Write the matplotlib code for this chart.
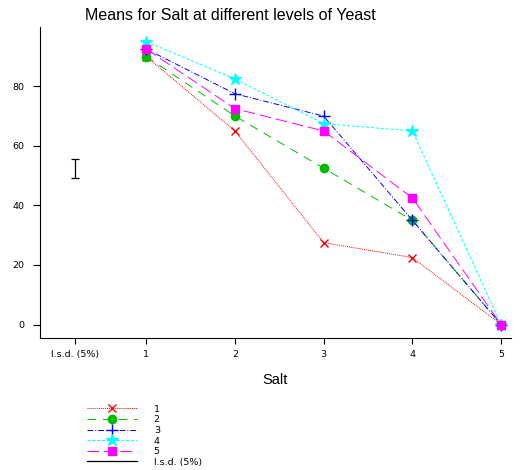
import matplotlib
matplotlib.use("Agg")
import matplotlib.pyplot as plt

plt.rcParams['font.family'] = ['Liberation Sans', 'DejaVu Sans']

salt = [1, 2, 3, 4, 5]
yeast_labels = ["1", "2", "3", "4", "5"]
means = [
    [90, 65, 27.5, 22.5, 0],
    [90, 70, 52.5, 35, 0],
    [92.5, 77.5, 70, 35, 0],
    [95, 82.5, 67.5, 65, 0],
    [92.5, 72.5, 65, 42.5, 0],
]
lsd_pos = 0.2
lsd_center = 52.3
lsd_value = 6.4
xtick_labels = ["l.s.d. (5%)", "1", "2", "3", "4", "5"]
yticks = [0, 20, 40, 60, 80]

colors = ["red", "#00bb00", "blue", "cyan", "magenta"]
markers = ["x", "o", "+", "*", "s"]
styles = [(0, (1, 1)), (0, (9, 7)), (0, (6, 2, 1, 2)), (0, (3, 2)), (0, (12, 5))]
msizes = [5.5, 6, 8, 9, 6]

small = dict(family="DejaVu Sans", size=6.8)

fig = plt.figure(figsize=(5.25, 4.7), dpi=100)
ax = fig.add_axes([0.076, 0.281, 0.897, 0.662])

for i in range(5):
    ax.plot(salt, means[i], color=colors[i], marker=markers[i], linestyle=styles[i],
            linewidth=0.7, markersize=msizes[i], markeredgewidth=1.0,
            label=yeast_labels[i])

ax.errorbar([lsd_pos], [lsd_center], yerr=[lsd_value / 2], color="black",
            capsize=3, linewidth=0.9, capthick=0.9, fmt="none")
ax.plot([], [], color="black", linewidth=0.9, label="l.s.d. (5%)")

ax.set_xlim(-0.2, 5.11)
ax.set_ylim(-4.5, 100)
ax.set_xticks([lsd_pos] + salt)
ax.set_xticklabels(xtick_labels, fontdict=small)
ax.set_yticks(yticks)
ax.set_yticklabels([str(v) for v in yticks], fontdict=small)
ax.tick_params(axis="x", length=4, width=0.8, pad=5)
ax.tick_params(axis="y", length=5, width=0.8, pad=6)
ax.spines['top'].set_visible(False)
ax.spines['right'].set_visible(False)
ax.set_xlabel("Salt", fontsize=10.5, labelpad=10)

fig.text(0.438, 0.966, "Means for Salt at different levels of Yeast",
         fontsize=11.5, ha="center", va="center")

fig.legend(loc="upper left", bbox_to_anchor=(0.158, 0.147), frameon=False,
           prop=small, handlelength=5.3, labelspacing=0.17, handletextpad=1.8,
           borderaxespad=0)

fig.savefig("out.png", dpi=100)
